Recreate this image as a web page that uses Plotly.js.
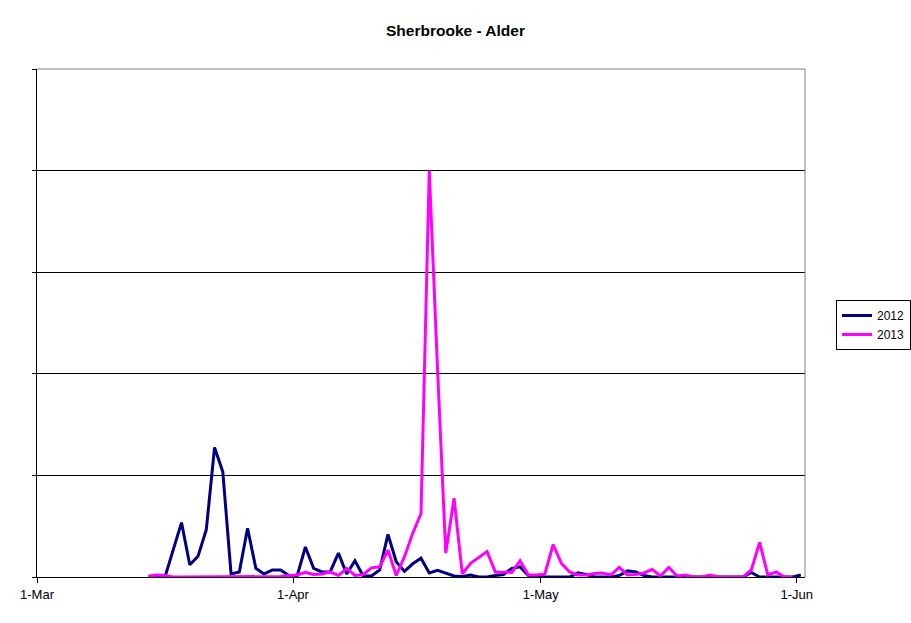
<!DOCTYPE html>
<html>
<head>
<meta charset="utf-8">
<script src="https://cdn.plot.ly/plotly-3.0.1.min.js"></script>
<style>html,body{margin:0;padding:0;background:#fff;}#chart{width:911px;height:623px;}</style>
</head>
<body>
<div id="chart"></div>
<script>
// Both seasons are plotted on a common month-day axis (Mar 1 - Jun 1).
// First plotted day for each series (days after 1-Mar).
const firstDay2012 = 13;
const firstDay2013 = 13;

const values2012 = [
  0, 0, 0, 5.4, 10.7, 2.4, 4.1, 9.3, 25.5, 20.7,
  0.6, 1.0, 9.6, 1.7, 0.6, 1.4, 1.4, 0.3, 0.2, 5.9,
  1.7, 1.0, 1.0, 4.7, 0.6, 3.2, 0.2, 0.2, 1.4, 8.4,
  3.0, 1.1, 2.6, 3.7, 0.8, 1.3, 0.7, 0.2, 0.1, 0.4,
  0, 0, 0.3, 0.5, 1.7, 2.0, 0.3, 0.3, 0, 0,
  0, 0, 0.8, 0.5, 0, 0, 0, 0.3, 1.2, 1.0,
  0.3, 0, 0, 0, 0, 0, 0, 0, 0, 0,
  0, 0, 0, 0.9, 0, 0, 0, 0, 0, 0.4
];

const values2013 = [
  0.2, 0.4, 0.3, 0, 0, 0, 0, 0, 0, 0,
  0, 0, 0, 0, 0, 0, 0.1, 0.3, 0.4, 0.9,
  0.5, 0.6, 1.0, 0.3, 1.7, 0.3, 0.5, 1.8, 2.0, 5.3,
  0.3, 4.0, 8.6, 12.5, 80, 41, 4.7, 15.5, 0.6, 2.7,
  3.8, 5.0, 1.0, 1.0, 0.9, 3.2, 0.4, 0.4, 0.6, 6.4,
  2.7, 1.0, 0.4, 0.4, 0.7, 0.8, 0.4, 1.9, 0.4, 0.5,
  0.8, 1.5, 0.2, 1.9, 0.2, 0.4, 0, 0, 0.4, 0,
  0, 0, 0, 1.4, 6.8, 0.4, 1.0, 0, 0
];

const tickDates = ['2012-03-01', '2012-04-01', '2012-05-01', '2012-06-01'];
const tickLabels = ['1-Mar', '1-Apr', '1-May', '1-Jun'];
const seriesNames = ['2012', '2013'];
const seriesColors = ['#000080', '#FF00FF'];

function dayDates(first, n) {
  const out = [];
  for (let i = 0; i < n; i++) {
    const d = new Date(Date.UTC(2012, 2, 1 + first + i, 12));
    out.push(d.toISOString().slice(0, 10) + ' 12:00');
  }
  return out;
}

const font = 'Liberation Sans, Arial, sans-serif';

const traces = [
  {x: dayDates(firstDay2012, values2012.length), y: values2012, name: seriesNames[0],
   type: 'scatter', mode: 'lines', line: {color: seriesColors[0], width: 3}},
  {x: dayDates(firstDay2013, values2013.length), y: values2013, name: seriesNames[1],
   type: 'scatter', mode: 'lines', line: {color: seriesColors[1], width: 3}}
];

const layout = {
  width: 911, height: 623,
  margin: {l: 37, r: 106, t: 69, b: 46, autoexpand: false},
  paper_bgcolor: '#fff', plot_bgcolor: '#fff',
  font: {family: font, color: '#000', size: 12},
  title: {text: 'Sherbrooke - Alder', font: {family: font, size: 15.5, weight: 'bold', color: '#000'},
          x: 0.5, xref: 'container', xanchor: 'center', y: 1 - 31/623, yref: 'container', yanchor: 'middle'},
  xaxis: {type: 'date', range: ['2012-03-01', '2012-06-02'], tickvals: tickDates, ticktext: tickLabels,
          showgrid: false, zeroline: false, showline: true, linecolor: '#000', linewidth: 1,
          ticks: 'outside', ticklen: 5, tickcolor: '#000', tickfont: {family: font, size: 13, color: '#000'}},
  yaxis: {range: [0, 100], tickvals: [0, 20, 40, 60, 80, 100], showticklabels: false,
          showgrid: true, gridcolor: '#000', gridwidth: 1, zeroline: false,
          showline: true, linecolor: '#000', linewidth: 1, ticks: 'outside', ticklen: 4, tickcolor: '#000'},
  shapes: [
    {type: 'line', xref: 'paper', yref: 'paper', x0: 0, x1: 1, y0: 1, y1: 1, line: {color: '#808080', width: 1}, layer: 'above'},
    {type: 'line', xref: 'paper', yref: 'paper', x0: 1, x1: 1, y0: 0, y1: 1, line: {color: '#808080', width: 1}, layer: 'above'}
  ],
  legend: {x: (836 - 37) / 768, y: (577 - 300) / 508, xanchor: 'left', yanchor: 'top',
           bordercolor: '#000', borderwidth: 1, bgcolor: '#fff', itemwidth: 30,
           font: {family: font, size: 12, color: '#000'}, tracegroupgap: 0},
  showlegend: true
};

Plotly.newPlot('chart', traces, layout, {staticPlot: true, displayModeBar: false});
</script>
</body>
</html>
